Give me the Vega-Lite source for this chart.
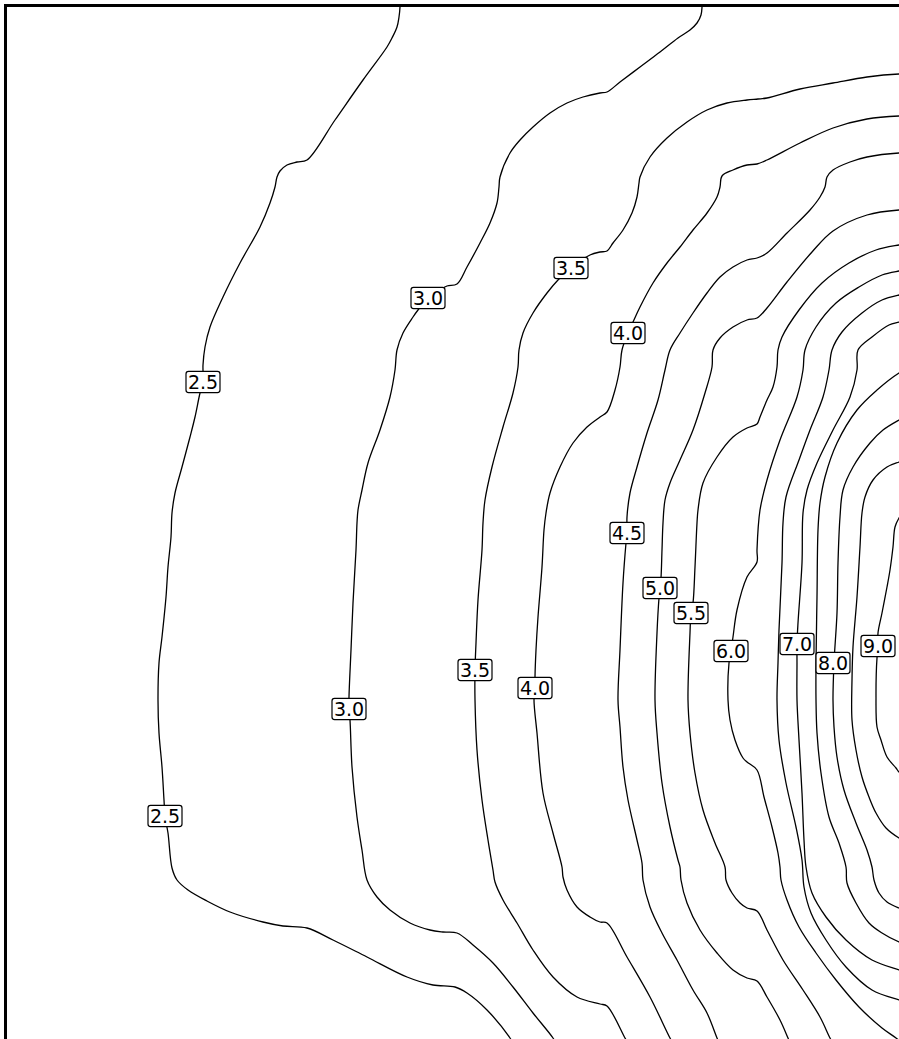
{
  "$schema": "https://vega.github.io/schema/vega-lite/v6.json",
  "width": 894,
  "height": 1034,
  "autosize": {"type": "none"},
  "padding": {"left": 5, "top": 5, "right": 0, "bottom": 0},
  "background": "white",
  "config": {"view": {"stroke": null}},
  "datasets": {
    "lines": [
      {"k":"2.5","x":400,"y":0},{"k":"2.5","x":400,"y":7},{"k":"2.5","x":399,"y":17},{"k":"2.5","x":397,"y":27},{"k":"2.5","x":392,"y":38},{"k":"2.5","x":387,"y":47},{"k":"2.5","x":363,"y":80},{"k":"2.5","x":335,"y":120},{"k":"2.5","x":307,"y":160},{"k":"2.5","x":297,"y":162},{"k":"2.5","x":287,"y":165},{"k":"2.5","x":280,"y":171},{"k":"2.5","x":277,"y":177},{"k":"2.5","x":275,"y":187},{"k":"2.5","x":270,"y":203},{"k":"2.5","x":260,"y":227},{"k":"2.5","x":240,"y":263},{"k":"2.5","x":223,"y":297},{"k":"2.5","x":210,"y":327},{"k":"2.5","x":205,"y":347},{"k":"2.5","x":203,"y":365},{"k":"2.5","x":203,"y":382},{"k":"2.5","x":200,"y":393},{"k":"2.5","x":195,"y":417},{"k":"2.5","x":190,"y":437},{"k":"2.5","x":182,"y":467},{"k":"2.5","x":175,"y":493},{"k":"2.5","x":172,"y":513},{"k":"2.5","x":171,"y":537},{"k":"2.5","x":168,"y":567},{"k":"2.5","x":166,"y":597},{"k":"2.5","x":162,"y":637},{"k":"2.5","x":159,"y":663},{"k":"2.5","x":158,"y":700},{"k":"2.5","x":159,"y":733},{"k":"2.5","x":162,"y":767},{"k":"2.5","x":164,"y":800},{"k":"2.5","x":165,"y":816},{"k":"2.5","x":168,"y":833},{"k":"2.5","x":172,"y":868},{"k":"2.5","x":177,"y":880},{"k":"2.5","x":188,"y":890},{"k":"2.5","x":207,"y":901},{"k":"2.5","x":230,"y":912},{"k":"2.5","x":263,"y":922},{"k":"2.5","x":283,"y":926},{"k":"2.5","x":307,"y":928},{"k":"2.5","x":333,"y":940},{"k":"2.5","x":367,"y":957},{"k":"2.5","x":407,"y":977},{"k":"2.5","x":433,"y":985},{"k":"2.5","x":455,"y":987},{"k":"2.5","x":467,"y":993},{"k":"2.5","x":487,"y":1010},{"k":"2.5","x":510,"y":1038},{"k":"2.5","x":514,"y":1045},
      {"k":"3.0","x":702,"y":0},{"k":"3.0","x":702,"y":7},{"k":"3.0","x":701,"y":15},{"k":"3.0","x":697,"y":23},{"k":"3.0","x":690,"y":30},{"k":"3.0","x":678,"y":38},{"k":"3.0","x":660,"y":52},{"k":"3.0","x":640,"y":67},{"k":"3.0","x":620,"y":82},{"k":"3.0","x":607,"y":92},{"k":"3.0","x":600,"y":93},{"k":"3.0","x":583,"y":97},{"k":"3.0","x":567,"y":103},{"k":"3.0","x":550,"y":113},{"k":"3.0","x":533,"y":127},{"k":"3.0","x":520,"y":140},{"k":"3.0","x":510,"y":153},{"k":"3.0","x":500,"y":177},{"k":"3.0","x":499,"y":187},{"k":"3.0","x":497,"y":203},{"k":"3.0","x":490,"y":223},{"k":"3.0","x":480,"y":243},{"k":"3.0","x":467,"y":267},{"k":"3.0","x":457,"y":284},{"k":"3.0","x":447,"y":286},{"k":"3.0","x":440,"y":290},{"k":"3.0","x":428,"y":298},{"k":"3.0","x":418,"y":310},{"k":"3.0","x":413,"y":317},{"k":"3.0","x":403,"y":333},{"k":"3.0","x":397,"y":350},{"k":"3.0","x":395,"y":370},{"k":"3.0","x":390,"y":397},{"k":"3.0","x":380,"y":430},{"k":"3.0","x":368,"y":463},{"k":"3.0","x":362,"y":490},{"k":"3.0","x":358,"y":510},{"k":"3.0","x":357,"y":523},{"k":"3.0","x":356,"y":550},{"k":"3.0","x":353,"y":603},{"k":"3.0","x":351,"y":650},{"k":"3.0","x":349,"y":697},{"k":"3.0","x":349,"y":709},{"k":"3.0","x":350,"y":720},{"k":"3.0","x":352,"y":767},{"k":"3.0","x":357,"y":817},{"k":"3.0","x":362,"y":850},{"k":"3.0","x":367,"y":880},{"k":"3.0","x":377,"y":897},{"k":"3.0","x":390,"y":910},{"k":"3.0","x":410,"y":923},{"k":"3.0","x":430,"y":930},{"k":"3.0","x":443,"y":932},{"k":"3.0","x":457,"y":933},{"k":"3.0","x":473,"y":945},{"k":"3.0","x":493,"y":963},{"k":"3.0","x":513,"y":987},{"k":"3.0","x":533,"y":1013},{"k":"3.0","x":553,"y":1038},{"k":"3.0","x":557,"y":1045},
      {"k":"3.5","x":905,"y":74},{"k":"3.5","x":899,"y":74},{"k":"3.5","x":867,"y":77},{"k":"3.5","x":833,"y":83},{"k":"3.5","x":800,"y":89},{"k":"3.5","x":767,"y":98},{"k":"3.5","x":758,"y":99},{"k":"3.5","x":747,"y":100},{"k":"3.5","x":727,"y":103},{"k":"3.5","x":707,"y":110},{"k":"3.5","x":687,"y":122},{"k":"3.5","x":667,"y":138},{"k":"3.5","x":650,"y":157},{"k":"3.5","x":640,"y":177},{"k":"3.5","x":639,"y":183},{"k":"3.5","x":637,"y":197},{"k":"3.5","x":632,"y":213},{"k":"3.5","x":623,"y":230},{"k":"3.5","x":613,"y":243},{"k":"3.5","x":607,"y":251},{"k":"3.5","x":600,"y":252},{"k":"3.5","x":590,"y":255},{"k":"3.5","x":571,"y":268},{"k":"3.5","x":558,"y":280},{"k":"3.5","x":547,"y":293},{"k":"3.5","x":533,"y":313},{"k":"3.5","x":523,"y":333},{"k":"3.5","x":519,"y":350},{"k":"3.5","x":518,"y":367},{"k":"3.5","x":513,"y":393},{"k":"3.5","x":503,"y":427},{"k":"3.5","x":492,"y":467},{"k":"3.5","x":485,"y":500},{"k":"3.5","x":483,"y":523},{"k":"3.5","x":482,"y":550},{"k":"3.5","x":478,"y":600},{"k":"3.5","x":476,"y":643},{"k":"3.5","x":475,"y":670},{"k":"3.5","x":475,"y":700},{"k":"3.5","x":477,"y":750},{"k":"3.5","x":482,"y":800},{"k":"3.5","x":488,"y":840},{"k":"3.5","x":493,"y":870},{"k":"3.5","x":495,"y":882},{"k":"3.5","x":503,"y":900},{"k":"3.5","x":517,"y":923},{"k":"3.5","x":533,"y":950},{"k":"3.5","x":553,"y":977},{"k":"3.5","x":577,"y":997},{"k":"3.5","x":600,"y":1004},{"k":"3.5","x":607,"y":1006},{"k":"3.5","x":625,"y":1038},{"k":"3.5","x":629,"y":1045},
      {"k":"4.0","x":905,"y":116},{"k":"4.0","x":899,"y":116},{"k":"4.0","x":867,"y":119},{"k":"4.0","x":833,"y":128},{"k":"4.0","x":800,"y":143},{"k":"4.0","x":767,"y":160},{"k":"4.0","x":757,"y":164},{"k":"4.0","x":747,"y":165},{"k":"4.0","x":733,"y":170},{"k":"4.0","x":722,"y":176},{"k":"4.0","x":720,"y":187},{"k":"4.0","x":717,"y":197},{"k":"4.0","x":707,"y":213},{"k":"4.0","x":693,"y":230},{"k":"4.0","x":680,"y":247},{"k":"4.0","x":667,"y":263},{"k":"4.0","x":653,"y":283},{"k":"4.0","x":640,"y":307},{"k":"4.0","x":633,"y":322},{"k":"4.0","x":628,"y":333},{"k":"4.0","x":622,"y":350},{"k":"4.0","x":620,"y":367},{"k":"4.0","x":615,"y":390},{"k":"4.0","x":607,"y":412},{"k":"4.0","x":600,"y":417},{"k":"4.0","x":587,"y":427},{"k":"4.0","x":573,"y":443},{"k":"4.0","x":560,"y":467},{"k":"4.0","x":550,"y":493},{"k":"4.0","x":546,"y":513},{"k":"4.0","x":544,"y":530},{"k":"4.0","x":542,"y":567},{"k":"4.0","x":538,"y":617},{"k":"4.0","x":536,"y":650},{"k":"4.0","x":535,"y":677},{"k":"4.0","x":535,"y":689},{"k":"4.0","x":534,"y":700},{"k":"4.0","x":537,"y":733},{"k":"4.0","x":543,"y":793},{"k":"4.0","x":553,"y":833},{"k":"4.0","x":562,"y":867},{"k":"4.0","x":563,"y":877},{"k":"4.0","x":567,"y":890},{"k":"4.0","x":577,"y":907},{"k":"4.0","x":590,"y":917},{"k":"4.0","x":600,"y":922},{"k":"4.0","x":607,"y":923},{"k":"4.0","x":627,"y":957},{"k":"4.0","x":650,"y":997},{"k":"4.0","x":670,"y":1038},{"k":"4.0","x":674,"y":1045},
      {"k":"4.5","x":905,"y":153},{"k":"4.5","x":899,"y":153},{"k":"4.5","x":867,"y":157},{"k":"4.5","x":850,"y":162},{"k":"4.5","x":833,"y":170},{"k":"4.5","x":827,"y":177},{"k":"4.5","x":825,"y":187},{"k":"4.5","x":820,"y":197},{"k":"4.5","x":810,"y":210},{"k":"4.5","x":787,"y":233},{"k":"4.5","x":767,"y":253},{"k":"4.5","x":757,"y":258},{"k":"4.5","x":747,"y":260},{"k":"4.5","x":733,"y":267},{"k":"4.5","x":720,"y":277},{"k":"4.5","x":707,"y":293},{"k":"4.5","x":693,"y":313},{"k":"4.5","x":680,"y":333},{"k":"4.5","x":670,"y":350},{"k":"4.5","x":665,"y":370},{"k":"4.5","x":658,"y":400},{"k":"4.5","x":647,"y":433},{"k":"4.5","x":637,"y":467},{"k":"4.5","x":630,"y":493},{"k":"4.5","x":627,"y":517},{"k":"4.5","x":627,"y":533},{"k":"4.5","x":626,"y":543},{"k":"4.5","x":623,"y":583},{"k":"4.5","x":620,"y":650},{"k":"4.5","x":618,"y":700},{"k":"4.5","x":620,"y":727},{"k":"4.5","x":623,"y":767},{"k":"4.5","x":628,"y":800},{"k":"4.5","x":637,"y":840},{"k":"4.5","x":642,"y":863},{"k":"4.5","x":643,"y":880},{"k":"4.5","x":650,"y":907},{"k":"4.5","x":662,"y":933},{"k":"4.5","x":677,"y":960},{"k":"4.5","x":693,"y":990},{"k":"4.5","x":707,"y":1013},{"k":"4.5","x":717,"y":1038},{"k":"4.5","x":720,"y":1045},
      {"k":"5.0","x":905,"y":210},{"k":"5.0","x":899,"y":210},{"k":"5.0","x":867,"y":215},{"k":"5.0","x":833,"y":231},{"k":"5.0","x":812,"y":252},{"k":"5.0","x":787,"y":282},{"k":"5.0","x":767,"y":308},{"k":"5.0","x":757,"y":318},{"k":"5.0","x":747,"y":320},{"k":"5.0","x":733,"y":327},{"k":"5.0","x":720,"y":338},{"k":"5.0","x":713,"y":350},{"k":"5.0","x":712,"y":367},{"k":"5.0","x":705,"y":393},{"k":"5.0","x":693,"y":430},{"k":"5.0","x":680,"y":460},{"k":"5.0","x":670,"y":483},{"k":"5.0","x":665,"y":500},{"k":"5.0","x":663,"y":523},{"k":"5.0","x":662,"y":550},{"k":"5.0","x":661,"y":578},{"k":"5.0","x":660,"y":588},{"k":"5.0","x":659,"y":598},{"k":"5.0","x":657,"y":633},{"k":"5.0","x":655,"y":700},{"k":"5.0","x":657,"y":733},{"k":"5.0","x":662,"y":783},{"k":"5.0","x":670,"y":827},{"k":"5.0","x":678,"y":860},{"k":"5.0","x":680,"y":867},{"k":"5.0","x":681,"y":880},{"k":"5.0","x":687,"y":903},{"k":"5.0","x":700,"y":930},{"k":"5.0","x":717,"y":953},{"k":"5.0","x":733,"y":970},{"k":"5.0","x":747,"y":978},{"k":"5.0","x":757,"y":981},{"k":"5.0","x":767,"y":997},{"k":"5.0","x":780,"y":1020},{"k":"5.0","x":788,"y":1038},{"k":"5.0","x":791,"y":1045},
      {"k":"5.5","x":905,"y":244},{"k":"5.5","x":899,"y":245},{"k":"5.5","x":876,"y":250},{"k":"5.5","x":849,"y":263},{"k":"5.5","x":822,"y":283},{"k":"5.5","x":799,"y":310},{"k":"5.5","x":782,"y":337},{"k":"5.5","x":778,"y":350},{"k":"5.5","x":777,"y":367},{"k":"5.5","x":773,"y":387},{"k":"5.5","x":767,"y":400},{"k":"5.5","x":760,"y":417},{"k":"5.5","x":757,"y":424},{"k":"5.5","x":747,"y":428},{"k":"5.5","x":733,"y":437},{"k":"5.5","x":717,"y":457},{"k":"5.5","x":703,"y":483},{"k":"5.5","x":698,"y":510},{"k":"5.5","x":697,"y":523},{"k":"5.5","x":695,"y":567},{"k":"5.5","x":693,"y":603},{"k":"5.5","x":691,"y":613},{"k":"5.5","x":690,"y":633},{"k":"5.5","x":688,"y":700},{"k":"5.5","x":690,"y":733},{"k":"5.5","x":695,"y":773},{"k":"5.5","x":703,"y":810},{"k":"5.5","x":715,"y":843},{"k":"5.5","x":725,"y":867},{"k":"5.5","x":726,"y":880},{"k":"5.5","x":732,"y":893},{"k":"5.5","x":740,"y":903},{"k":"5.5","x":747,"y":908},{"k":"5.5","x":757,"y":911},{"k":"5.5","x":767,"y":930},{"k":"5.5","x":783,"y":960},{"k":"5.5","x":803,"y":990},{"k":"5.5","x":820,"y":1017},{"k":"5.5","x":830,"y":1038},{"k":"5.5","x":834,"y":1045},
      {"k":"6.0","x":905,"y":270},{"k":"6.0","x":899,"y":271},{"k":"6.0","x":882,"y":275},{"k":"6.0","x":859,"y":287},{"k":"6.0","x":836,"y":303},{"k":"6.0","x":816,"y":327},{"k":"6.0","x":805,"y":350},{"k":"6.0","x":803,"y":370},{"k":"6.0","x":797,"y":397},{"k":"6.0","x":780,"y":440},{"k":"6.0","x":767,"y":480},{"k":"6.0","x":760,"y":510},{"k":"6.0","x":757,"y":550},{"k":"6.0","x":757,"y":562},{"k":"6.0","x":747,"y":577},{"k":"6.0","x":737,"y":610},{"k":"6.0","x":733,"y":637},{"k":"6.0","x":731,"y":651},{"k":"6.0","x":729,"y":663},{"k":"6.0","x":728,"y":700},{"k":"6.0","x":730,"y":720},{"k":"6.0","x":735,"y":740},{"k":"6.0","x":743,"y":758},{"k":"6.0","x":747,"y":762},{"k":"6.0","x":757,"y":770},{"k":"6.0","x":764,"y":797},{"k":"6.0","x":772,"y":827},{"k":"6.0","x":778,"y":853},{"k":"6.0","x":780,"y":867},{"k":"6.0","x":781,"y":880},{"k":"6.0","x":787,"y":900},{"k":"6.0","x":799,"y":927},{"k":"6.0","x":816,"y":953},{"k":"6.0","x":836,"y":980},{"k":"6.0","x":859,"y":1007},{"k":"6.0","x":882,"y":1028},{"k":"6.0","x":896,"y":1038},{"k":"6.0","x":905,"y":1045},
      {"k":"6.5","x":905,"y":294},{"k":"6.5","x":899,"y":295},{"k":"6.5","x":882,"y":300},{"k":"6.5","x":862,"y":313},{"k":"6.5","x":842,"y":332},{"k":"6.5","x":832,"y":350},{"k":"6.5","x":829,"y":370},{"k":"6.5","x":823,"y":397},{"k":"6.5","x":810,"y":430},{"k":"6.5","x":799,"y":460},{"k":"6.5","x":786,"y":497},{"k":"6.5","x":783,"y":523},{"k":"6.5","x":782,"y":563},{"k":"6.5","x":779,"y":630},{"k":"6.5","x":778,"y":663},{"k":"6.5","x":777,"y":700},{"k":"6.5","x":779,"y":740},{"k":"6.5","x":786,"y":783},{"k":"6.5","x":796,"y":827},{"k":"6.5","x":802,"y":860},{"k":"6.5","x":804,"y":887},{"k":"6.5","x":811,"y":913},{"k":"6.5","x":826,"y":940},{"k":"6.5","x":846,"y":967},{"k":"6.5","x":872,"y":990},{"k":"6.5","x":899,"y":1000},{"k":"6.5","x":905,"y":1002},
      {"k":"7.0","x":905,"y":320},{"k":"7.0","x":899,"y":322},{"k":"7.0","x":889,"y":325},{"k":"7.0","x":872,"y":337},{"k":"7.0","x":858,"y":350},{"k":"7.0","x":857,"y":370},{"k":"7.0","x":850,"y":397},{"k":"7.0","x":833,"y":430},{"k":"7.0","x":817,"y":463},{"k":"7.0","x":807,"y":490},{"k":"7.0","x":803,"y":513},{"k":"7.0","x":802,"y":563},{"k":"7.0","x":798,"y":623},{"k":"7.0","x":797,"y":644},{"k":"7.0","x":797,"y":663},{"k":"7.0","x":797,"y":700},{"k":"7.0","x":799,"y":740},{"k":"7.0","x":802,"y":793},{"k":"7.0","x":804,"y":840},{"k":"7.0","x":806,"y":867},{"k":"7.0","x":812,"y":893},{"k":"7.0","x":826,"y":917},{"k":"7.0","x":846,"y":940},{"k":"7.0","x":872,"y":960},{"k":"7.0","x":899,"y":970},{"k":"7.0","x":905,"y":972},
      {"k":"7.5","x":905,"y":370},{"k":"7.5","x":899,"y":373},{"k":"7.5","x":877,"y":390},{"k":"7.5","x":857,"y":410},{"k":"7.5","x":837,"y":443},{"k":"7.5","x":825,"y":477},{"k":"7.5","x":820,"y":503},{"k":"7.5","x":818,"y":530},{"k":"7.5","x":817,"y":597},{"k":"7.5","x":816,"y":663},{"k":"7.5","x":816,"y":700},{"k":"7.5","x":817,"y":733},{"k":"7.5","x":821,"y":773},{"k":"7.5","x":829,"y":817},{"k":"7.5","x":839,"y":843},{"k":"7.5","x":846,"y":867},{"k":"7.5","x":847,"y":883},{"k":"7.5","x":856,"y":903},{"k":"7.5","x":869,"y":923},{"k":"7.5","x":882,"y":933},{"k":"7.5","x":899,"y":942},{"k":"7.5","x":905,"y":944},
      {"k":"8.0","x":905,"y":417},{"k":"8.0","x":899,"y":420},{"k":"8.0","x":883,"y":430},{"k":"8.0","x":870,"y":443},{"k":"8.0","x":853,"y":467},{"k":"8.0","x":843,"y":490},{"k":"8.0","x":840,"y":517},{"k":"8.0","x":838,"y":563},{"k":"8.0","x":837,"y":613},{"k":"8.0","x":834,"y":663},{"k":"8.0","x":833,"y":700},{"k":"8.0","x":834,"y":727},{"k":"8.0","x":837,"y":757},{"k":"8.0","x":844,"y":790},{"k":"8.0","x":856,"y":823},{"k":"8.0","x":867,"y":850},{"k":"8.0","x":872,"y":867},{"k":"8.0","x":874,"y":880},{"k":"8.0","x":879,"y":893},{"k":"8.0","x":887,"y":902},{"k":"8.0","x":899,"y":908},{"k":"8.0","x":905,"y":910},
      {"k":"8.5","x":905,"y":460},{"k":"8.5","x":899,"y":462},{"k":"8.5","x":887,"y":467},{"k":"8.5","x":873,"y":480},{"k":"8.5","x":865,"y":497},{"k":"8.5","x":862,"y":513},{"k":"8.5","x":860,"y":547},{"k":"8.5","x":857,"y":597},{"k":"8.5","x":853,"y":647},{"k":"8.5","x":852,"y":680},{"k":"8.5","x":852,"y":720},{"k":"8.5","x":856,"y":750},{"k":"8.5","x":862,"y":777},{"k":"8.5","x":869,"y":797},{"k":"8.5","x":876,"y":813},{"k":"8.5","x":886,"y":828},{"k":"8.5","x":899,"y":838},{"k":"8.5","x":905,"y":841},
      {"k":"9.0","x":905,"y":510},{"k":"9.0","x":899,"y":518},{"k":"9.0","x":895,"y":527},{"k":"9.0","x":893,"y":547},{"k":"9.0","x":890,"y":570},{"k":"9.0","x":887,"y":587},{"k":"9.0","x":882,"y":613},{"k":"9.0","x":878,"y":633},{"k":"9.0","x":878,"y":649},{"k":"9.0","x":877,"y":658},{"k":"9.0","x":876,"y":697},{"k":"9.0","x":877,"y":727},{"k":"9.0","x":881,"y":740},{"k":"9.0","x":887,"y":757},{"k":"9.0","x":896,"y":768},{"k":"9.0","x":899,"y":772},{"k":"9.0","x":905,"y":776}
    ],
    "labels": [
      {"t":"2.5","x":203,"y":382},{"t":"2.5","x":165,"y":816},
      {"t":"3.0","x":428,"y":298},{"t":"3.0","x":349,"y":709},
      {"t":"3.5","x":571,"y":268},{"t":"3.5","x":475,"y":670},
      {"t":"4.0","x":628,"y":333},{"t":"4.0","x":535,"y":688},
      {"t":"4.5","x":627,"y":533},{"t":"5.0","x":660,"y":588},
      {"t":"5.5","x":691,"y":613},{"t":"6.0","x":731,"y":651},
      {"t":"7.0","x":797,"y":644},{"t":"8.0","x":833,"y":663},
      {"t":"9.0","x":878,"y":646}
    ]
  },
  "encoding": {
    "x": {"field": "x", "type": "quantitative", "scale": {"domain": [5, 899], "zero": false, "nice": false},
          "axis": {"orient": "top", "domain": true, "domainColor": "black", "domainWidth": 3, "domainCap": "square", "ticks": false, "labels": false, "grid": false, "title": null}},
    "y": {"field": "y", "type": "quantitative", "scale": {"domain": [5, 1039], "reverse": true, "zero": false, "nice": false},
          "axis": {"orient": "left", "domain": true, "domainColor": "black", "domainWidth": 3, "domainCap": "square", "ticks": false, "labels": false, "grid": false, "title": null}}
  },
  "layer": [
    {
      "data": {"name": "lines"},
      "mark": {"type": "line", "clip": true, "color": "black", "strokeWidth": 1.3, "interpolate": "catmull-rom"},
      "encoding": {"detail": {"field": "k", "type": "nominal"}, "order": {"value": null}}
    },
    {
      "data": {"name": "labels"},
      "mark": {"type": "point", "shape": "M-0.85,-0.62H0.85A0.15,0.15 0 0 1 1,-0.47V0.47A0.15,0.15 0 0 1 0.85,0.62H-0.85A0.15,0.15 0 0 1 -1,0.47V-0.47A0.15,0.15 0 0 1 -0.85,-0.62Z",
               "size": 1156, "filled": true, "fill": "white", "stroke": "black", "strokeWidth": 1.2, "opacity": 1, "fillOpacity": 1, "strokeOpacity": 1}
    },
    {
      "data": {"name": "labels"},
      "mark": {"type": "text", "font": "DejaVu Sans", "fontSize": 19, "align": "center", "baseline": "alphabetic", "dy": 7, "color": "black"},
      "encoding": {"text": {"field": "t", "type": "nominal"}}
    }
  ]
}
